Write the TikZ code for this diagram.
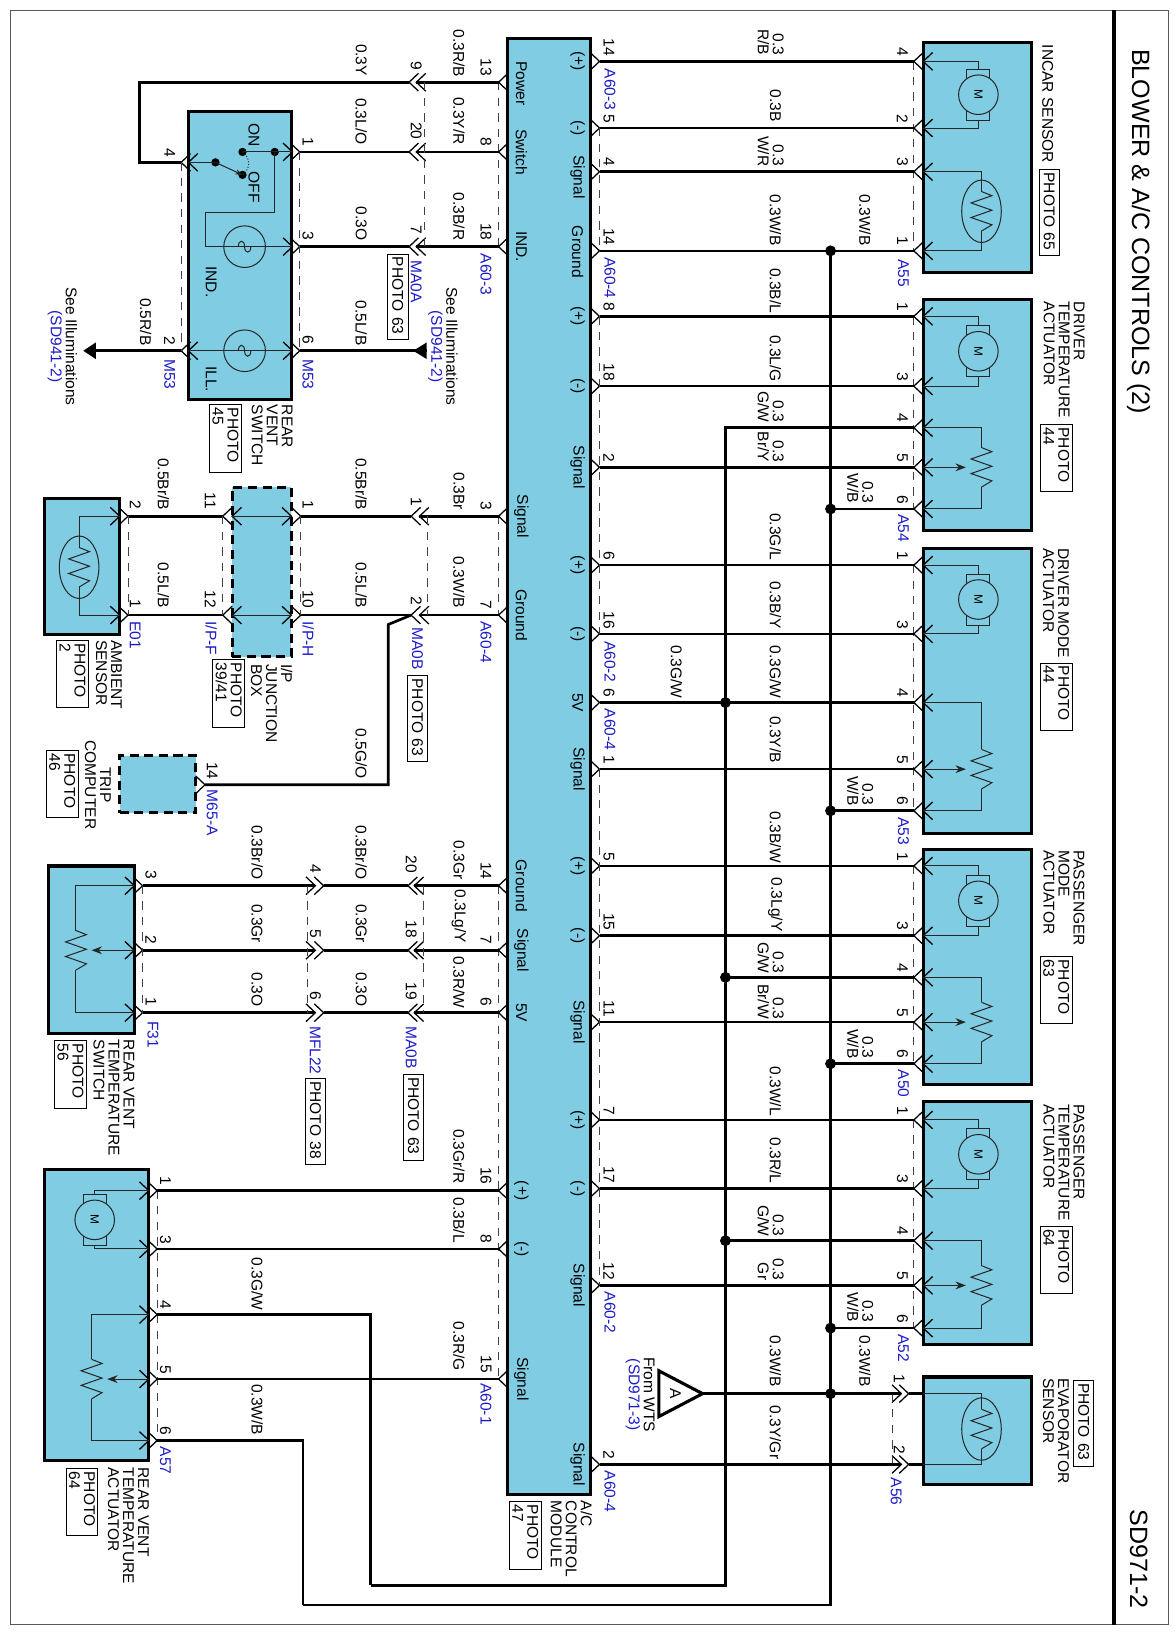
\documentclass[tikz,border=0pt]{standalone}
\usepackage{fontspec}
\setmainfont{Liberation Sans}
\usetikzlibrary{arrows.meta}
\definecolor{modblue}{HTML}{7FCCE3}
\definecolor{conblue}{HTML}{1C1CC8}
\tikzset{
  lblbase/.style={rotate=-90, inner sep=0pt, outer sep=0pt, font=\fontsize{8.5}{8.2}\selectfont},
  lbl/.style={lblbase, anchor=east},
  num/.style={lblbase, anchor=east},
  pair/.style={lblbase, anchor=north east, align=right},
  con/.style={lblbase, anchor=west, text=conblue},
  pinname/.style={lblbase},
  nm/.style={lblbase, anchor=north west, align=left},
  phone/.style={lblbase, draw, line width=.5pt, anchor=north west, align=left, inner xsep=1.6pt, inner ysep=2.6pt, text width=1.54cm},
  phtwo/.style={lblbase, draw, line width=.5pt, anchor=north west, align=left, inner sep=1.6pt, text width=1.18cm},
  ttl/.style={rotate=-90, inner sep=0pt, anchor=west, font=\fontsize{13.7}{15}\selectfont},
  blk/.style={draw, line width=1.7pt, fill=modblue, inner sep=0pt, outer sep=0pt, anchor=north west},
  blkd/.style={blk, dashed, dash pattern=on 5pt off 3pt},
  size/.style 2 args={minimum width=#1*0.02cm, minimum height=#2*0.02cm},
  wire/.style={line width=1.45pt},
  inner/.style={line width=.55pt, black!85},
  pinline/.style={line width=.7pt},
  dashln/.style={line width=.5pt, black!75, dash pattern=on 4.5pt off 4pt},
  wiper/.style={inner, -{Stealth[length=.2cm, width=.15cm]}},
  joint/.style={circle, fill=black, inner sep=0pt, minimum size=.21cm},
  % connector chevron, open towards +x
  chev/.pic={\draw[pinline] (9,-8.5) -- (0,0) -- (9,8.5);},
  motor/.pic={
    \draw[inner] (-11,-24.5) rectangle (11,24.5);
    \draw[inner, fill=modblue] (0,0) circle [radius=19];
    \node[rotate=-90, inner sep=0pt, font=\fontsize{6.5}{7}\selectfont] (-m) at (0,0) {M};},
  zig/.pic={\draw[inner] (0,-19) -- (10,-15) -- (-10,-8) -- (10,-1) -- (-10,6) -- (10,13) -- (0,19);},
  lamp/.pic={
    \draw[inner] (0,0) circle [radius=20];
    \draw[inner] (-6,0) .. controls (-6,-7) and (0,-7) .. (0,0) .. controls (0,7) and (6,7) .. (6,0);},
}
\begin{document}
\begin{tikzpicture}[x=0.02cm, y=-0.02cm]
\useasboundingbox (0,0) rectangle (1128,1568);

% frame and title
\draw[line width=.7pt, black!65] (10,10) rectangle (1123,1561);
\coordinate (frmT) at (1070,10);
\coordinate (frmB) at (1070,1561);
\draw[line width=2pt] (frmT) -- (frmB);
\node[ttl] (ttlA) at (1094,47) {BLOWER \& A/C CONTROLS (2)};
\node[ttl] (sdn) at (1094,1450) {SD971-2};

% blocks
\node[blk, size={79}{1399}] (acmod) at (488,37) {};
\node[blk, size={104}{221}] (incar) at (887,41) {};
\node[blk, size={104}{222}] (drvtemp) at (887,288) {};
\node[blk, size={104}{274}] (drvmode) at (887,527) {};
\node[blk, size={104}{226}] (pasmode) at (887,816) {};
\node[blk, size={104}{234}] (pastemp) at (887,1058) {};
\node[blk, size={104}{103}] (evap) at (887,1323) {};
\node[blk, size={99}{277}] (rvsw) at (181,107) {};
\node[blk, size={72}{131}] (amb) at (43,479) {};
\node[blkd, size={57}{163}] (ipjb) at (223,468) {};
\node[blkd, size={73}{55}] (trip) at (115,726) {};
\node[blk, size={82}{161}] (rvts) at (47,832) {};
\node[blk, size={100}{279}] (rvta) at (43,1124) {};

% module face texts
\foreach \x/\y/\t [count=\i] in {
  555/59/(+), 555/123/(-), 555/170/Signal, 555/242/Ground, 555/304/(+), 555/371/(-), 555/449/Signal,
  555/543/(+), 555/609/(-), 555/675/5V, 555/739/Signal, 555/832/(+), 555/899/(-), 555/982/Signal,
  555/1076/(+), 555/1142/(-), 555/1235/Signal, 555/1407/Signal,
  501/80/Power, 501/146/Switch, 501/237/IND., 501/496/Signal, 501/591/Ground, 501/851/Ground,
  501/913/Signal, 501/973/5V, 501/1144/(+), 501/1200/(-), 501/1325/Signal}
  \node[pinname] (face\i) at (\x,\y) {\t};

% module pins, right side
\foreach \y/\n in {59/14,123/5,165/4,241/14,304/8,371/18,449/2,543/6,609/16,675/6,739/1,832/5,899/15,982/11,1076/7,1142/17,1235/12,1407/2}{
  \coordinate (acr\y) at (576,\y);
  \pic[rotate=180] at (acr\y) {chev};
  \node[num] (nacr\y) at (585,\y-5) {\n};
}
% module pins, left side
\foreach \y/\n in {79/13,146/8,237/18,496/3,591/7,851/14,913/7,973/6,1144/16,1200/8,1325/15}{
  \coordinate (acl\y) at (479,\y);
  \pic at (acl\y) {chev};
  \node[num] (nacl\y) at (467,\y-6) {\n};
}
% actuator and sensor pins
\foreach \y/\n in {59/4,123/2,165/3,241/1,304/1,371/3,411/4,449/5,489/6,543/1,609/3,675/4,739/5,779/6,832/1,899/3,939/4,982/5,1022/6,1076/1,1142/3,1192/4,1235/5,1276/6}{
  \coordinate (dev\y) at (878,\y);
  \pic at (dev\y) {chev};
  \pic at (887,\y) {chev};
  \node[num] (ndev\y) at (867,\y-5) {\n};
}

% dashed connector outlines
\draw[dashln] (acr123) -- (acr241);
\draw[dashln] (acr304) -- (acr609);
\draw[dashln] (acr739) -- (acr1235);
\draw[dashln] (dev59) -- (dev241);
\draw[dashln] (dev304) -- (dev489);
\draw[dashln] (dev543) -- (dev779);
\draw[dashln] (dev832) -- (dev1022);
\draw[dashln] (dev1076) -- (dev1276);
\draw[dashln] (acl79) -- (acl237);
\draw[dashln] (acl496) -- (acl591);
\draw[dashln] (acl851) -- (acl1325);

% long wires, module to devices
\foreach \y in {59,123,165,241,304,371,449,543,609,675,739,832,899,982,1076,1142,1235}
  \draw[wire] (acr\y) -- (dev\y);

% ground and 5V buses
\coordinate (wbbot) at (798,1542);
\coordinate (wbcor) at (291,1542);
\coordinate (gwbot) at (697,1523);
\coordinate (gwcor) at (356,1523);
\coordinate (gwtop) at (697,411);
\node[joint] (jwb241) at (798,241) {};
\foreach \y in {489,779,1022,1276}{
  \node[joint] (jwb\y) at (798,\y) {};
  \draw[wire] (jwb\y.center) -- (dev\y);
}
\foreach \y in {675,939,1192}
  \node[joint] (jgw\y) at (697,\y) {};
\draw[wire] (jgw939.center) -- (dev939);
\draw[wire] (jgw1192.center) -- (dev1192);
\draw[wire] (dev411) -- (gwtop) -- (gwbot) -- (gwcor);
\draw[wire] (jwb241.center) -- (wbbot) -- (wbcor);

% evaporator sensor
\coordinate (wtsA) at (675,1339);
\coordinate (evL1) at (866,1339);
\coordinate (evR1) at (873,1339);
\coordinate (evL2) at (866,1407);
\coordinate (evR2) at (873,1407);
\coordinate (evE1) at (887,1339);
\coordinate (evE2) at (887,1407);
\node[joint] (jwb1339) at (798,1339) {};
\foreach \c in {evL1,evR1,evL2,evR2}
  \pic[rotate=180] at (\c) {chev};
\draw[dashln] (857,1339) -- (857,1407);
\draw[wire] (wtsA) -- (evL1);
\draw[wire] (evR1) -- (evE1);
\draw[wire] (acr1407) -- (evL2);
\draw[wire] (evR2) -- (evE2);
\draw[line width=1.7pt, fill=white] (wtsA) -- (633,1317) -- (633,1361) -- cycle;
\node[rotate=-90, inner sep=0pt, font=\fontsize{8.5}{8.2}\selectfont] (wtsT) at (649,1339) {A};
\node[lblbase, align=center] (wtsN) at (615,1340) {From WTS\\{\color{conblue}(SD971-3)}};
\node[num] (nev1) at (864,1329) {1};
\node[num] (nev2) at (864,1397) {2};

% motors in the right column
\foreach \c/\a/\b in {incar/59/123, drvtemp/304/371, drvmode/543/609, pasmode/832/899, pastemp/1076/1142}{
  \pic (m\c) at (940,{(\a+\b)/2}) {motor};
  \draw[inner] (887,\a) -| (940,{(\a+\b)/2-24.5});
  \draw[inner] (887,\b) -| (940,{(\a+\b)/2+24.5});
}
% pots in the right column
\foreach \a/\b/\c in {411/449/489, 675/739/779, 939/982/1022, 1192/1235/1276}{
  \pic at (943,\b) {zig};
  \draw[inner] (887,\a) -| (943,\b-19);
  \draw[inner] (887,\c) -| (943,\b+19);
  \draw[wiper] (887,\b) -- (928,\b);
}
% thermistors
\pic at (943,203) {zig};
\draw[inner] (943,203) ellipse [x radius=19, y radius=30];
\draw[inner] (887,165) -| (943,184);
\draw[inner] (887,241) -| (943,222);
\pic at (943,1373) {zig};
\draw[inner] (943,1373) ellipse [x radius=19, y radius=30];
\draw[inner] (887,1339) -| (943,1354);
\draw[inner] (887,1407) -| (943,1392);

% rear vent switch
\foreach \y/\n in {146/1,237/3,337/6}{
  \coordinate (swr\y) at (288,\y);
  \pic[rotate=180] at (swr\y) {chev};
  \pic[rotate=180] at (281,\y) {chev};
  \node[num] (nswr\y) at (296,\y-6) {\n};
}
\foreach \y/\n in {156/4,337/2}{
  \coordinate (swl\y) at (174,\y);
  \pic at (swl\y) {chev};
  \pic at (181,\y) {chev};
  \node[num] (nswl\y) at (163,\y-5) {\n};
}
\draw[dashln] (swr146) -- (swr337);
\draw[dashln] (swl156) -- (swl337);
\foreach \y/\n in {79/9,146/20,237/7}{
  \coordinate (maaL\y) at (393,\y);
  \coordinate (maaR\y) at (400,\y);
  \pic at (maaL\y) {chev};
  \pic at (maaR\y) {chev};
  \node[num] (nmaa\y) at (400,\y-12) {\n};
}
\draw[wire] (acl79) -- (maaR79);
\draw[wire] (acl146) -- (maaR146);
\draw[wire] (acl237) -- (maaR237);
\draw[dashln] ([xshift=.16cm]maaR79) -- ([xshift=.16cm]maaR237);
\coordinate (cor4) at (134,156);
\draw[wire] (maaL79) -| (cor4) -- (swl156);
\draw[wire] (maaL146) -- (swr146);
\draw[wire] (maaL237) -- (swr237);
\coordinate (illR) at (410,337);
\coordinate (illL) at (92,337);
\draw[wire] (swr337) -- (illR);
\draw[wire] (swl337) -- (illL);
\fill (397,337) -- (410,329) -- (410,345) -- cycle;
\fill (80,337) -- (92,329) -- (92,345) -- cycle;
% switch contacts
\coordinate (onc) at (233,146);
\coordinate (ont) at (264,146);
\coordinate (piv) at (207,156);
\coordinate (ofc) at (233,168);
\foreach \c in {onc,ont,piv,ofc}
  \fill (\c) circle [radius=4];
\draw[inner] (181,156) -- (piv);
\draw[inner] (onc) -- (281,146);
\draw[inner, -{Stealth[length=.14cm, width=.1cm]}] (piv) -- (ofc);
\draw[inner, densely dotted] (onc) .. controls (241,152) and (241,162) .. (ofc);
\draw[inner] (ont) -- (264,204) -- (197,204) -- (197,237) -- (281,237);
\pic at (235,237) {lamp};
\pic at (235,337) {lamp};
\draw[inner] (181,337) -- (281,337);

% ambient sensor and I/P junction box
\foreach \y/\a/\b/\c/\d in {496/2/11/1/1, 591/1/12/10/2}{
  \coordinate (ambp\y) at (123,\y);
  \coordinate (ipfp\y) at (214,\y);
  \coordinate (iphp\y) at (289,\y);
  \coordinate (mabL\y) at (395,\y);
  \coordinate (mabR\y) at (403,\y);
  \pic[rotate=180] at (ambp\y) {chev};
  \pic[rotate=180] at (115,\y) {chev};
  \pic at (ipfp\y) {chev};
  \pic at (223,\y) {chev};
  \pic[rotate=180] at (280,\y) {chev};
  \pic[rotate=180] at (iphp\y) {chev};
  \pic at (mabL\y) {chev};
  \pic at (mabR\y) {chev};
  \draw[inner] (223,\y) -- (280,\y);
  \draw[wire] (ambp\y) -- (ipfp\y);
  \draw[wire] (iphp\y) -- (mabL\y);
  \draw[wire] (acl\y) -- (mabR\y);
  \node[num] (namb\y) at (130,\y-7) {\a};
  \node[num] (nipf\y) at (202,\y-7) {\b};
  \node[num] (niph\y) at (296,\y-7) {\c};
  \node[num] (nmab\y) at (400,\y-10) {\d};
}
\draw[dashln] (ambp496) -- (ambp591);
\draw[dashln] (ipfp496) -- (ipfp591);
\draw[dashln] (iphp496) -- (iphp591);
\draw[dashln] ([xshift=.16cm]mabR496) -- ([xshift=.16cm]mabR591);
\pic at (76,545) {zig};
\draw[inner] (76,545) ellipse [x radius=19, y radius=30];
\draw[inner] (115,496) -| (76,526);
\draw[inner] (115,591) -| (76,564);

% trip computer
\coordinate (tripp) at (197,754);
\coordinate (tripc) at (373,754);
\coordinate (tripd) at (373,600);
\pic[rotate=180] at (tripp) {chev};
\draw[wire] (tripp) -- (tripc) -- (tripd) -- (mabL591);
\node[num] (ntrip) at (204,749) {14};

% rear vent temperature switch
\foreach \y/\a/\b/\c in {851/3/4/20, 913/2/5/18, 973/1/6/19}{
  \coordinate (rvp\y) at (137,\y);
  \coordinate (mflL\y) at (303,\y);
  \coordinate (mflR\y) at (311,\y);
  \coordinate (mbbL\y) at (392,\y);
  \coordinate (mbbR\y) at (398,\y);
  \pic[rotate=180] at (rvp\y) {chev};
  \pic[rotate=180] at (129,\y) {chev};
  \pic[rotate=180] at (mflL\y) {chev};
  \pic[rotate=180] at (mflR\y) {chev};
  \pic at (mbbL\y) {chev};
  \pic at (mbbR\y) {chev};
  \draw[wire] (rvp\y) -- (mflL\y);
  \draw[wire] (mflR\y) -- (mbbL\y);
  \draw[wire] (mbbR\y) -- (acl\y);
  \node[num] (nrv\y) at (145,\y-6) {\a};
  \node[num] (nmfl\y) at (303,\y-12) {\b};
  \node[num] (nmbb\y) at (395,\y-12) {\c};
}
\draw[dashln] (rvp851) -- (rvp973);
\draw[dashln] ([xshift=-.16cm]mflL851) -- ([xshift=-.16cm]mflL973);
\draw[dashln] ([xshift=.18cm]mbbR851) -- ([xshift=.18cm]mbbR973);
\pic at (73,913) {zig};
\draw[inner] (129,851) -| (73,894);
\draw[inner] (129,973) -| (73,932);
\draw[wiper] (129,913) -- (88,913);

% rear vent temperature actuator
\foreach \y/\n in {1144/1,1200/3,1263/4,1325/5,1384/6}{
  \coordinate (rap\y) at (151,\y);
  \pic[rotate=180] at (rap\y) {chev};
  \pic[rotate=180] at (143,\y) {chev};
  \node[num] (nra\y) at (159,\y-5) {\n};
}
\draw[dashln] (rap1144) -- (rap1384);
\draw[wire] (rap1144) -- (acl1144);
\draw[wire] (rap1200) -- (acl1200);
\draw[wire] (rap1325) -- (acl1325);
\coordinate (gwup) at (356,1263);
\coordinate (wbup) at (291,1384);
\draw[wire] (gwcor) -- (gwup) -- (rap1263);
\draw[wire] (wbcor) -- (wbup) -- (rap1384);
\pic (mrear) at (91,1172) {motor};
\draw[inner] (143,1144) -| (91,1147.5);
\draw[inner] (143,1200) -| (91,1196.5);
\pic at (88,1325) {zig};
\draw[inner] (143,1263) -| (88,1306);
\draw[inner] (143,1384) -| (88,1344);
\draw[wiper] (143,1325) -- (103,1325);

% wire codes, x is the line centre and y the end of the text
\foreach \x/\y/\t [count=\i] in {
  441/74/{0.3R/B}, 347/73/{0.3Y}, 441/139/{0.3Y/R}, 441/231/{0.3B/R}, 347/139/{0.3L/O}, 347/231/{0.3O},
  347/332/{0.5L/B}, 140/332/{0.5R/B}, 441/490/{0.3Br}, 441/584/{0.3W/B}, 347/490/{0.5Br/B}, 157/490/{0.5Br/B},
  347/584/{0.5L/B}, 157/584/{0.5L/B}, 347/748/{0.5G/O}, 441/845/{0.3Gr}, 441/906/{0.3Lg/Y}, 441/969/{0.3R/W},
  347/845/{0.3Br/O}, 247/845/{0.3Br/O}, 347/906/{0.3Gr}, 247/906/{0.3Gr}, 347/967/{0.3O}, 247/967/{0.3O},
  441/1137/{0.3Gr/R}, 441/1194/{0.3B/L}, 441/1317/{0.3R/G}, 247/1259/{0.3G/W}, 247/1379/{0.3W/B},
  745/117/{0.3B}, 745/236/{0.3W/B}, 831/236/{0.3W/B}, 745/301/{0.3B/L}, 745/367/{0.3L/G}, 745/538/{0.3G/L},
  745/604/{0.3B/Y}, 745/671/{0.3G/W}, 650/671/{0.3G/W}, 745/733/{0.3Y/B}, 745/829/{0.3B/W}, 745/895/{0.3Lg/Y},
  745/1072/{0.3W/L}, 745/1137/{0.3R/L}, 745/1332/{0.3W/B}, 831/1332/{0.3W/B}, 745/1402/{0.3Y/Gr}}
  \node[lbl] (wc\i) at (\x,\y) {\t};
\foreach \x/\y/\t [count=\i] in {
  753/53/{0.3\\R/B}, 753/160/{0.3\\W/R}, 753/406/{0.3\\G/W}, 753/444/{0.3\\Br/Y}, 839/483/{0.3\\W/B},
  839/774/{0.3\\W/B}, 753/935/{0.3\\G/W}, 753/979/{0.3\\Br/W}, 839/1017/{0.3\\W/B}, 753/1188/{0.3\\G/W},
  753/1230/{0.3\\Gr}, 839/1270/{0.3\\W/B}}
  \node[pair] (wp\i) at (\x,\y) {\t};

% connector names
\foreach \x/\y/\t [count=\i] in {
  586/66/A60-3, 586/247/A60-4, 586/616/A60-2, 586/681/A60-4, 586/1241/A60-2, 586/1413/A60-4,
  868/249/A55, 868/494/A54, 868/785/A53, 868/1028/A50, 868/1282/A52, 861/1420/A56,
  467/244/A60-3, 467/597/A60-4, 467/1329/A60-1, 400/250/MA0A, 401/603/MA0B, 395/986/MA0B, 303/986/MFL22,
  296/345/M53, 163/345/M53, 296/597/{I/P-H}, 203/597/{I/P-F}, 130/597/E01, 204/759/M65-A, 147/981/F31, 159/1390/A57}
  \node[con] (cn\i) at (\x,\y) {\t};

% inner texts of the switch
\node[lblbase, anchor=west] (son) at (244,119) {ON};
\node[lblbase, anchor=west] (sof) at (244,165) {OFF};
\node[lblbase, anchor=west] (sin) at (203,256) {IND.};
\node[lblbase, anchor=west] (sil) at (203,352) {ILL.};

% off-page references
\node[lblbase, align=center] (illRt) at (425.5,333) {See Illuminations\\{\color{conblue}(SD941-2)}};
\node[lblbase, align=center] (illLt) at (60,333) {See Illuminations\\{\color{conblue}(SD941-2)}};

% component names
\node[nm] (nincar) at (1012,43) {INCAR SENSOR};
\node[nm] (ndrvt) at (1042,290) {DRIVER\\TEMPERATURE\\ACTUATOR};
\node[nm] (ndrvm) at (1027,527) {DRIVER MODE\\ACTUATOR};
\node[nm] (npasm) at (1042,817) {PASSENGER\\MODE\\ACTUATOR};
\node[nm] (npast) at (1042,1061) {PASSENGER\\TEMPERATURE\\ACTUATOR};
\node[nm] (nevap) at (1027,1324) {EVAPORATOR\\SENSOR};
\node[nm] (nrvsw) at (281,389) {REAR\\VENT\\SWITCH};
\node[nm] (nambt) at (117,615) {AMBIENT\\SENSOR};
\node[nm] (nipjb) at (281,638) {I/P\\JUNCTION\\BOX};
\node[lblbase, align=center] (ntrp) at (94,754) {TRIP\\COMPUTER};
\node[nm] (nrvts) at (129,999) {REAR VENT\\TEMPERATURE\\SWITCH};
\node[nm] (nrvta) at (143,1410) {REAR VENT\\TEMPERATURE\\ACTUATOR};
\node[nm] (nacm) at (569,1442) {A/C\\CONTROL\\MODULE};

% photo references
\foreach \x/\y/\t [count=\i] in {
  392/244/PHOTO 63, 411/649/PHOTO 63, 313/1036/PHOTO 38, 407/1032/PHOTO 63, 1018/163/PHOTO 65, 1051/1326/PHOTO 63}
  \node[phone] (pha\i) at (\x,\y) {\t};
\foreach \x/\y/\t [count=\i] in {
  232/389/{PHOTO\\45}, 85/615/{PHOTO\\2}, 235/634/{PHOTO\\39/41}, 75/721/{PHOTO\\46}, 83/1000/{PHOTO\\56},
  94/1411/{PHOTO\\64}, 520/1443/{PHOTO\\47}, 1030/408/{PHOTO\\44}, 1030/637/{PHOTO\\44}, 1030/919/{PHOTO\\63},
  1030/1178/{PHOTO\\64}}
  \node[phtwo] (phb\i) at (\x,\y) {\t};

\end{tikzpicture}
\end{document}
